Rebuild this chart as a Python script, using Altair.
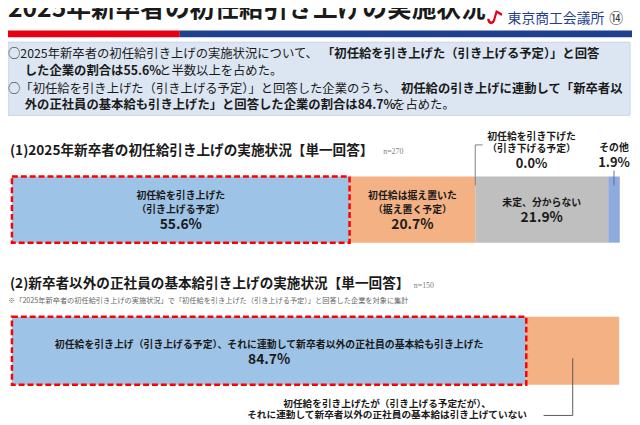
import altair as alt
import pandas as pd

# ---------------- data ----------------
cat1 = ["初任給を引き上げた（引き上げる予定）", "初任給は据え置いた（据え置く予定）",
        "初任給を引き下げた（引き下げる予定）", "未定、分からない", "その他"]
val1 = [55.6, 20.7, 0.0, 21.9, 1.9]
l1_line1 = ["初任給を引き上げた", "初任給は据え置いた", "初任給を引き下げた", "未定、分からない", "その他"]
l1_line2 = ["（引き上げる予定）", "（据え置く予定）", "（引き下げる予定）", "", ""]

cat2 = ["初任給を引き上げ（引き上げる予定）、それに連動して新卒者以外の正社員の基本給も引き上げた",
        "初任給を引き上げたが（引き上げる予定だが）、それに連動して新卒者以外の正社員の基本給は引き上げていない"]
val2 = [84.7, 15.3]
l2_line1 = ["初任給を引き上げ（引き上げる予定）、それに連動して新卒者以外の正社員の基本給も引き上げた",
            "初任給を引き上げたが（引き上げる予定だが）、"]
l2_line2 = ["", "それに連動して新卒者以外の正社員の基本給は引き上げていない"]

title = "2025年新卒者の初任給引き上げの実施状況"
head1 = "(1)2025年新卒者の初任給引き上げの実施状況【単一回答】"
head2 = "(2)新卒者以外の正社員の基本給引き上げの実施状況【単一回答】"
n1 = "n=270"
n2 = "n=150"
note2 = "※「2025年新卒者の初任給引き上げの実施状況」で「初任給を引き上げた（引き上げる予定）」と回答した企業を対象に集計"
org = "東京商工会議所"
page_no = "⑭"
summary = [
    ("○2025年新卒者の初任給引き上げの実施状況について、", False),
    ("「初任給を引き上げた（引き上げる予定）」と回答", True),
    ("した企業の割合は55.6%", True),
    ("と半数以上を占めた。", False),
    ("○「初任給を引き上げた（引き上げる予定）」と回答した企業のうち、", False),
    ("初任給の引き上げに連動して「新卒者以", True),
    ("外の正社員の基本給も引き上げた」と回答した企業の割合は84.7%", True),
    ("を占めた。", False),
]

# ---------------- styles ----------------
col1 = ["#9DC3E6", "#F4B183", "#7F7F7F", "#BFBFBF", "#8FAADC"]
col2 = ["#9DC3E6", "#F4B183"]
F = "Noto Sans CJK JP"
TXT = "#1a1a1a"


def stacked(cats, vals, a, b):
    df = pd.DataFrame({"cat": cats, "value": vals, "line1": a, "line2": b})
    df["end"] = df["value"].cumsum()
    df["start"] = df["end"] - df["value"]
    df["mid"] = (df["start"] + df["end"]) / 2
    return df


df1 = stacked(cat1, val1, l1_line1, l1_line2)
df2 = stacked(cat2, val2, l2_line1, l2_line2)

xscale = alt.Scale(domain=[0, 100], range=[4, 619])


def X(f):
    return alt.X(f, type="quantitative", scale=xscale, axis=None)


def pct(ch):
    return ch.transform_calculate(pct="format(datum.value, '.1f') + '%'")


deco = pd.DataFrame({"k": [0]})


def txt(s, x, y, size, bold=False, color=TXT, align="left", font=F, baseline="middle"):
    return alt.Chart(deco).mark_text(
        text=s, fontSize=size, fontWeight="bold" if bold else "normal", color=color,
        align=align, baseline=baseline, font=font
    ).encode(x=alt.value(x), y=alt.value(y))


def box(x, x2, y, y2, fill, stroke=None):
    kw = {"fill": fill}
    if stroke:
        kw.update(stroke=stroke, strokeWidth=1)
    return alt.Chart(deco).mark_rect(**kw).encode(
        x=alt.value(x), x2=alt.value(x2), y=alt.value(y), y2=alt.value(y2))


layers = []

# ---------- header ----------
layers.append(txt(title, 0, 6, 25, bold=True, baseline="alphabetic"))
logo_path = ("M -0.95 0.15 C -0.95 1.0 -0.05 1.0 0.05 0.35 L 0.3 -0.55 L 0.85 -0.2 "
             "L 0.95 -0.5 L 0.15 -0.95 L -0.2 0.25 C -0.3 0.6 -0.65 0.55 -0.65 0.15 Z")
layers.append(alt.Chart(deco).mark_point(shape=logo_path, filled=True, color="#E60012",
                                         size=260, opacity=1)
              .encode(x=alt.value(493), y=alt.value(7)))
layers.append(txt(org, 506, 8.5, 14, color="#1F3F8F"))
layers.append(txt(page_no, 609, 8.5, 14, color="#333333"))
layers.append(box(0, 174, 20, 27, "#E60012"))
layers.append(box(174, 632, 20, 27, "#1F3F8F"))
layers.append(box(0, 630, 32, 106, "#DCE6F2", stroke="#C3D2E8"))

# summary text lines (segment, x, y)
seg_pos = [(0, 44), (318, 44), (17, 61), (153, 61), (0, 79), (398, 79), (17, 96), (390, 96)]
for (s, b), (x, y) in zip(summary, seg_pos):
    layers.append(txt(s, x, y, 12.5, bold=b))

# ---------- section 1 ----------
layers.append(txt(head1, 2, 142, 13.8, bold=True))
layers.append(txt(n1, 380, 143, 8, color="#808080", font="Liberation Serif"))

base1 = alt.Chart(df1)
layers.append(base1.mark_rect().encode(
    x=X("start"), x2=alt.X2("end"), y=alt.value(168), y2=alt.value(235),
    color=alt.Color("cat:N", scale=alt.Scale(domain=cat1, range=col1), legend=None)))
layers.append(base1.transform_filter(alt.datum.cat == cat1[0]).mark_rect(
    fillOpacity=0, stroke="#FF0000", strokeWidth=2.5, strokeDash=[6, 3]).encode(
    x=X("start"), x2=alt.X2("end"), y=alt.value(168), y2=alt.value(235)))

tkw = dict(font=F, fontWeight="bold", color=TXT, baseline="middle", align="center")
in2 = base1.transform_filter(alt.FieldOneOfPredicate(field="cat", oneOf=cat1[:2]))
layers.append(in2.mark_text(fontSize=10, **tkw).encode(x=X("mid"), y=alt.value(187.5), text="line1:N"))
layers.append(in2.mark_text(fontSize=10, **tkw).encode(x=X("mid"), y=alt.value(201.5), text="line2:N"))
layers.append(pct(in2).mark_text(fontSize=14, **tkw).encode(x=X("mid"), y=alt.value(217), text="pct:N"))

in1 = base1.transform_filter(alt.datum.cat == cat1[3])
layers.append(in1.mark_text(fontSize=10, **tkw).encode(x=X("mid"), y=alt.value(195), text="line1:N"))
layers.append(pct(in1).mark_text(fontSize=14, **tkw).encode(x=X("mid"), y=alt.value(210), text="pct:N"))

zero = base1.transform_filter(alt.datum.cat == cat1[2])
layers.append(zero.mark_text(fontSize=10, dx=57, **tkw).encode(x=X("start"), y=alt.value(128), text="line1:N"))
layers.append(zero.mark_text(fontSize=10, dx=57, **tkw).encode(x=X("start"), y=alt.value(140), text="line2:N"))
layers.append(pct(zero).mark_text(fontSize=13, dx=57, **tkw).encode(x=X("start"), y=alt.value(155), text="pct:N"))
layers.append(zero.mark_rule(color="#7F7F7F", strokeWidth=1).encode(
    x=X("start"), y=alt.value(136), y2=alt.value(177)))
layers.append(zero.transform_calculate(lead="datum.start + 1.2").mark_rule(
    color="#7F7F7F", strokeWidth=1).encode(x=X("start"), x2=alt.X2("lead:Q"), y=alt.value(136)))

oth = base1.transform_filter(alt.datum.cat == cat1[4])
layers.append(oth.mark_text(fontSize=10, **tkw).encode(x=X("mid"), y=alt.value(139), text="line1:N"))
layers.append(pct(oth).mark_text(fontSize=13, **tkw).encode(x=X("mid"), y=alt.value(154), text="pct:N"))
layers.append(oth.mark_rule(color="#5A6F99", strokeWidth=1).encode(
    x=X("mid"), y=alt.value(162), y2=alt.value(177)))

# ---------- section 2 ----------
layers.append(txt(head2, 2, 277, 13.8, bold=True))
layers.append(txt(n2, 411, 279, 8, color="#808080", font="Liberation Serif"))
layers.append(txt(note2, 0, 294, 7.3, color="#666666"))

base2 = alt.Chart(df2)
layers.append(base2.mark_rect().encode(
    x=X("start"), x2=alt.X2("end"), y=alt.value(310), y2=alt.value(379),
    color=alt.Color("cat:N", scale=alt.Scale(domain=cat2, range=col2), legend=None)))
layers.append(base2.transform_filter(alt.datum.cat == cat2[0]).mark_rect(
    fillOpacity=0, stroke="#FF0000", strokeWidth=2.5, strokeDash=[6, 3]).encode(
    x=X("start"), x2=alt.X2("end"), y=alt.value(310), y2=alt.value(379)))

b2in = base2.transform_filter(alt.datum.cat == cat2[0])
layers.append(b2in.mark_text(fontSize=10, **tkw).encode(x=X("mid"), y=alt.value(338.5), text="line1:N"))
layers.append(pct(b2in).mark_text(fontSize=14, **tkw).encode(x=X("mid"), y=alt.value(354), text="pct:N"))

b2out = base2.transform_filter(alt.datum.cat == cat2[1])
layers.append(b2out.mark_text(fontSize=9.8, dx=-188, **tkw).encode(x=X("mid"), y=alt.value(398), text="line1:N"))
layers.append(b2out.mark_text(fontSize=9.8, dx=-188, **tkw).encode(x=X("mid"), y=alt.value(410), text="line2:N"))
layers.append(b2out.mark_rule(color="#595959", strokeWidth=1).encode(
    x=X("mid"), y=alt.value(352), y2=alt.value(410)))
layers.append(b2out.transform_calculate(lead="datum.mid - 4.8").mark_rule(
    color="#595959", strokeWidth=1).encode(x=X("lead:Q"), x2=alt.X2("mid"), y=alt.value(410)))

chart = alt.layer(*layers).properties(
    width=632, height=417, padding=0,
    autosize=alt.AutoSizeParams(type="none"),
).configure_view(stroke=None)

chart.save("out.html", embed_options={"renderer": "svg", "actions": False})
